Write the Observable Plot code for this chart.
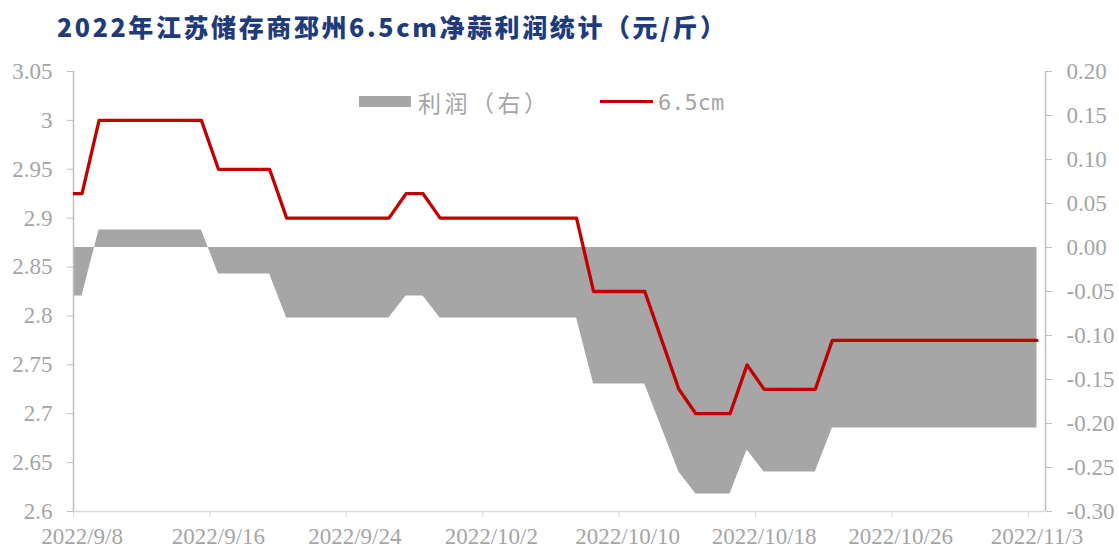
<!DOCTYPE html>
<html>
<head>
<meta charset="utf-8">
<script src="https://cdn.jsdelivr.net/npm/d3@7"></script>
<script src="https://cdn.jsdelivr.net/npm/@observablehq/plot@0.6"></script>
<style>
  html, body { margin: 0; padding: 0; background: #fff; }
  #wrap { position: relative; width: 1119px; height: 550px; overflow: hidden; background: #fff; }
  #title { position: absolute; left: 57px; top: 0; height: 60px; line-height: 53px; white-space: nowrap;
           font-family: "Noto Sans CJK SC", sans-serif; font-weight: 900; font-size: 25px; letter-spacing: 2.6px; color: #1F3B7A; }
  #chart { position: absolute; left: 0; top: 60px; }
  .lg { position: absolute; }
  .lgtext { position: absolute; white-space: nowrap; color: #A5A5A5; line-height: 1; }
</style>
</head>
<body>
<div id="wrap">
  <div id="title"></div>
  <div id="chart"></div>
  <div class="lg" style="left:359px; top:96px; width:52px; height:11px; background:#A6A6A6;"></div>
  <div class="lgtext" id="lgProfit" style="left:418px; top:91px; font-family:'Noto Sans CJK SC', sans-serif; font-size:23px; letter-spacing:3.5px;"></div>
  <div class="lg" style="left:600px; top:100px; width:53px; height:3.3px; background:#C00000;"></div>
  <div class="lgtext" id="lgPrice" style="left:658px; top:92px; font-family:'DejaVu Sans Mono', monospace; font-size:22px;"></div>
</div>
<script>
// ---- data ----
const dates = [
  "2022-09-07","2022-09-08","2022-09-09","2022-09-10","2022-09-11","2022-09-12","2022-09-13","2022-09-14","2022-09-15",
  "2022-09-16","2022-09-17","2022-09-18","2022-09-19","2022-09-20","2022-09-21","2022-09-22","2022-09-23","2022-09-24",
  "2022-09-25","2022-09-26","2022-09-27","2022-09-28","2022-09-29","2022-09-30","2022-10-01","2022-10-02","2022-10-03",
  "2022-10-04","2022-10-05","2022-10-06","2022-10-07","2022-10-08","2022-10-09","2022-10-10","2022-10-11","2022-10-12",
  "2022-10-13","2022-10-14","2022-10-15","2022-10-16","2022-10-17","2022-10-18","2022-10-19","2022-10-20","2022-10-21",
  "2022-10-22","2022-10-23","2022-10-24","2022-10-25","2022-10-26","2022-10-27","2022-10-28","2022-10-29","2022-10-30",
  "2022-10-31","2022-11-01","2022-11-02","2022-11-03"
];
const price65 = [
  2.925,2.925,3.0,3.0,3.0,3.0,3.0,3.0,3.0,
  2.95,2.95,2.95,2.95,2.9,2.9,2.9,2.9,2.9,
  2.9,2.9,2.925,2.925,2.9,2.9,2.9,2.9,2.9,
  2.9,2.9,2.9,2.9,2.825,2.825,2.825,2.825,2.775,
  2.725,2.70,2.70,2.70,2.75,2.725,2.725,2.725,2.725,
  2.775,2.775,2.775,2.775,2.775,2.775,2.775,2.775,2.775,
  2.775,2.775,2.775,2.775
];
const profit = [
  -0.055,-0.055,0.02,0.02,0.02,0.02,0.02,0.02,0.02,
  -0.03,-0.03,-0.03,-0.03,-0.08,-0.08,-0.08,-0.08,-0.08,
  -0.08,-0.08,-0.055,-0.055,-0.08,-0.08,-0.08,-0.08,-0.08,
  -0.08,-0.08,-0.08,-0.08,-0.155,-0.155,-0.155,-0.155,-0.205,
  -0.255,-0.28,-0.28,-0.28,-0.23,-0.255,-0.255,-0.255,-0.255,
  -0.205,-0.205,-0.205,-0.205,-0.205,-0.205,-0.205,-0.205,-0.205,
  -0.205,-0.205,-0.205,-0.205
];
const xTickDates = ["2022-09-08","2022-09-16","2022-09-24","2022-10-02","2022-10-10","2022-10-18","2022-10-26","2022-11-03"];
const xTickLabels = ["2022/9/8","2022/9/16","2022/9/24","2022/10/2","2022/10/10","2022/10/18","2022/10/26","2022/11/3"];
const xDomainDates = ["2022-09-08","2022-11-04"];
const leftTicks = [2.6,2.65,2.7,2.75,2.8,2.85,2.9,2.95,3,3.05];
const leftTickLabels = ["2.6","2.65","2.7","2.75","2.8","2.85","2.9","2.95","3","3.05"];
const rightTicks = [-0.30,-0.25,-0.20,-0.15,-0.10,-0.05,0.00,0.05,0.10,0.15,0.20];
const rightTickLabels = ["-0.30","-0.25","-0.20","-0.15","-0.10","-0.05","0.00","0.05","0.10","0.15","0.20"];
const leftDomain = [2.6, 3.05];
const rightDomain = [-0.30, 0.20];
const seriesNames = ["利润（右）", "6.5cm"];
const titleText = "2022年江苏储存商邳州6.5cm净蒜利润统计（元/斤）";

// ---- helpers ----
const midnight = s => new Date(s + "T00:00:00Z");
const noon = s => new Date(s + "T12:00:00Z");
const toLeft = v => leftDomain[0] + (v - rightDomain[0]) * (leftDomain[1] - leftDomain[0]) / (rightDomain[1] - rightDomain[0]);

const rows = dates.map((d, i) => ({date: noon(d), price: price65[i], profit: profit[i]}));
const xDomain = xDomainDates.map(midnight);

const leftLabelMap = new Map(leftTicks.map((t, i) => [t, leftTickLabels[i]]));
const rightPos = rightTicks.map(toLeft);
const rightLabelMap = new Map(rightPos.map((t, i) => [t, rightTickLabels[i]]));
const xLabelPos = xTickDates.map(noon);
const xLabelMap = new Map(xLabelPos.map((t, i) => [t.getTime(), xTickLabels[i]]));

document.getElementById("title").textContent = titleText;
document.getElementById("lgProfit").textContent = seriesNames[0];
document.getElementById("lgPrice").textContent = seriesNames[1];

const axisColor = "#BFBFBF";
const textColor = "#A5A5A5";

const chart = Plot.plot({
  width: 1119,
  height: 490,
  marginTop: 11,
  marginBottom: 39,
  marginLeft: 73,
  marginRight: 74,
  style: {fontFamily: "'Liberation Serif', 'Times New Roman', serif", fontSize: "23px", color: textColor, background: "#fff", overflow: "visible"},
  x: {type: "utc", domain: xDomain, axis: null},
  y: {domain: leftDomain, axis: null},
  marks: [
    Plot.areaY(rows, {x: "date", y1: () => toLeft(0), y2: d => toLeft(d.profit), fill: "#A6A6A6", clip: true}),
    Plot.ruleY([leftDomain[0]], {stroke: "#D9D9D9", strokeWidth: 1.5}),
    Plot.ruleX([xDomain[0]], {stroke: axisColor, strokeWidth: 1.5}),
    Plot.ruleX([xDomain[1]], {stroke: axisColor, strokeWidth: 1.5}),
    Plot.axisY({anchor: "left", label: null, ticks: leftTicks, tickFormat: d => leftLabelMap.get(d), tickSize: 6, tickPadding: 15, stroke: axisColor, fill: textColor}),
    Plot.axisY({anchor: "right", label: null, ticks: rightPos, tickFormat: d => rightLabelMap.get(d), tickSize: 6, tickPadding: 15, stroke: axisColor, fill: textColor}),
    Plot.axisX({label: null, ticks: xTickDates.map(midnight), tickFormat: () => "", tickSize: 6, stroke: "#D9D9D9"}),
    Plot.axisX({label: null, ticks: xLabelPos, tickFormat: d => xLabelMap.get(d.getTime()), tickSize: 0, tickPadding: 16, fill: textColor}),
    Plot.lineY(rows, {x: "date", y: "price", stroke: "#C00000", strokeWidth: 3.3, clip: true})
  ]
});
document.getElementById("chart").appendChild(chart);
</script>
</body>
</html>
